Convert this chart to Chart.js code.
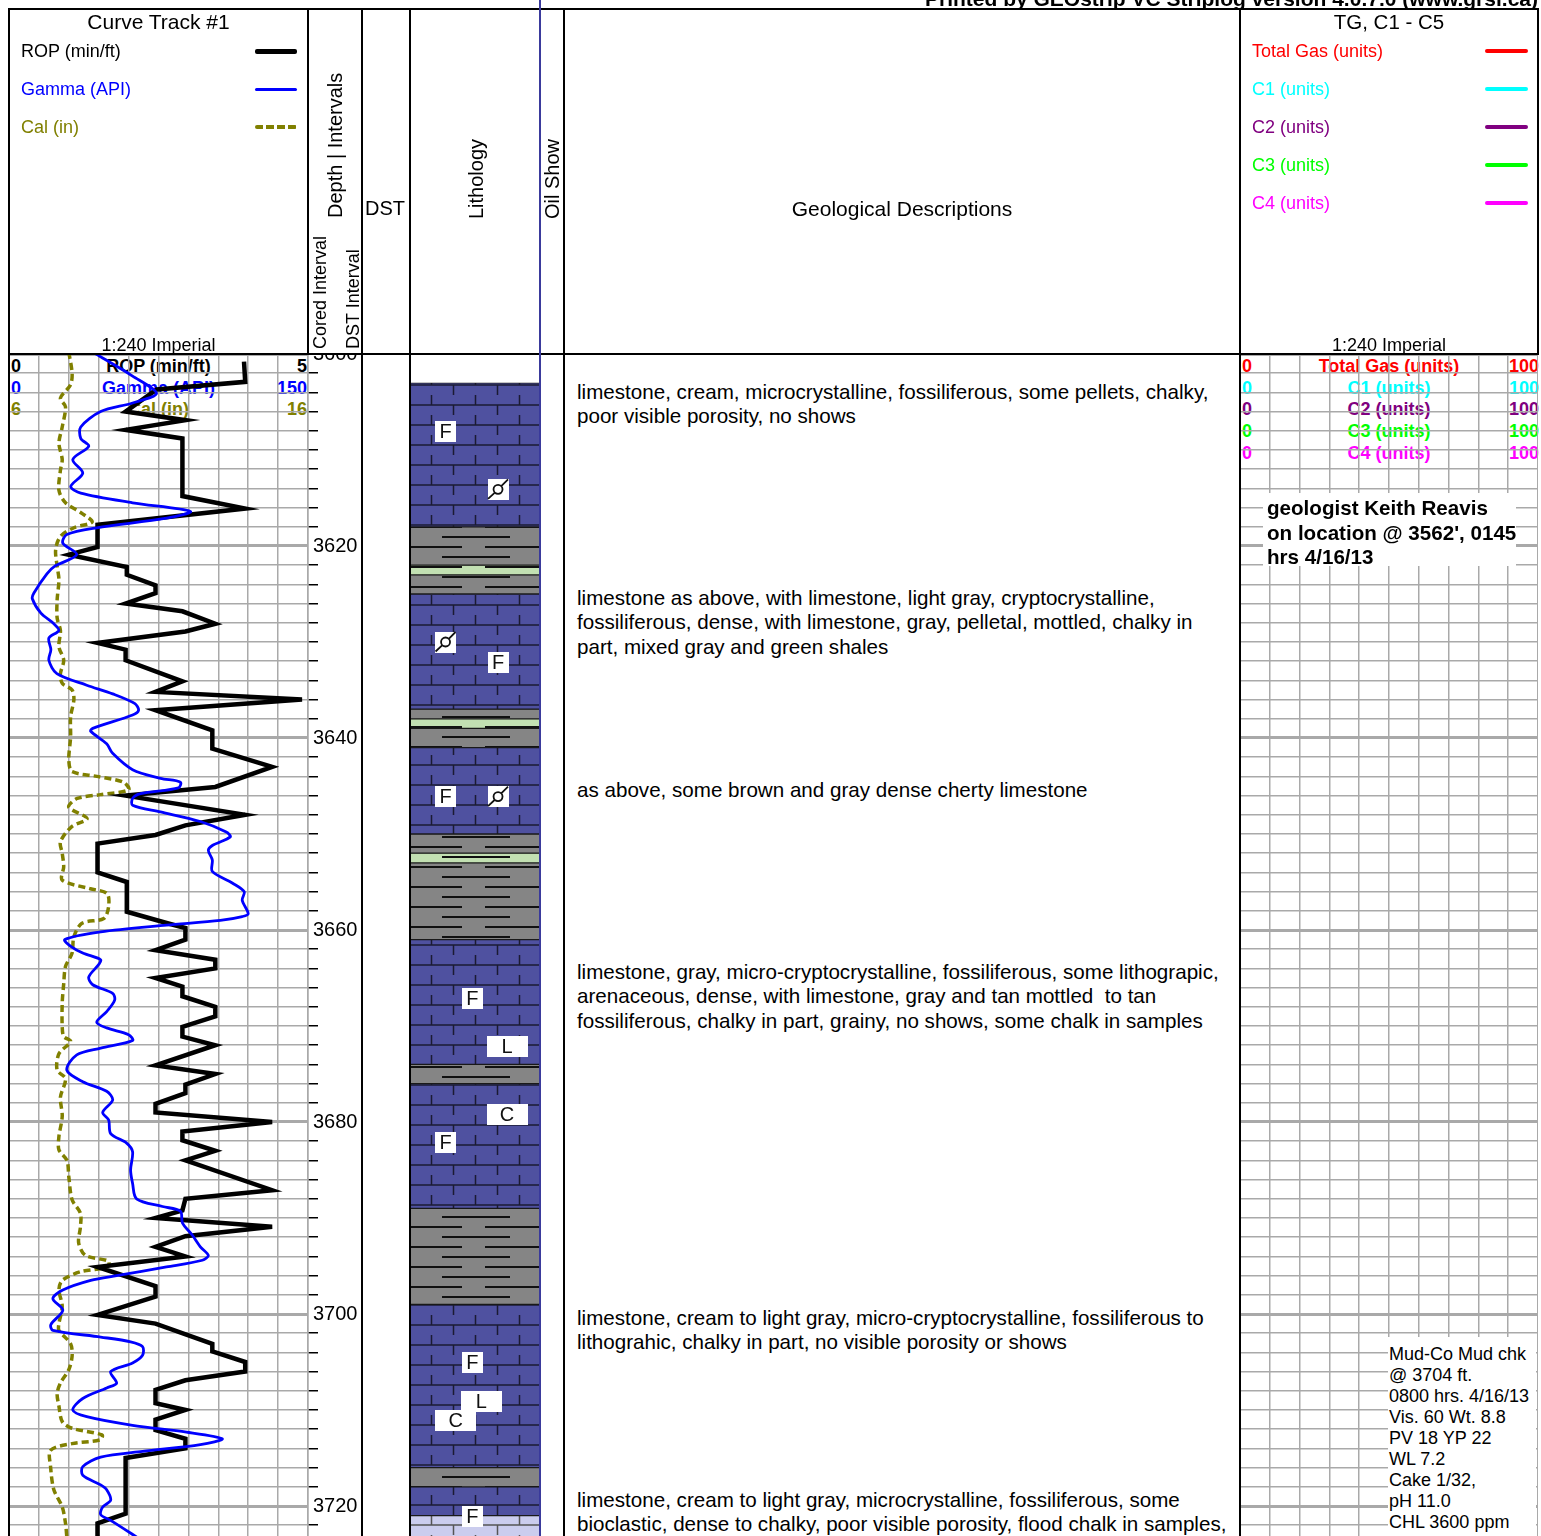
<!DOCTYPE html>
<html>
<head>
<meta charset="utf-8">
<title>Strip log 3600-3723 ft</title>
<script src="https://cdn.jsdelivr.net/npm/chart.js@4.4.1/dist/chart.umd.min.js"></script>
<style>
  html, body { margin: 0; padding: 0; background: #fff; }
  body { position: relative; width: 1541px; height: 1536px; overflow: hidden;
         font-family: "Liberation Sans", Arial, sans-serif; color: #000; }
  .a { position: absolute; white-space: pre; }
  .v { position: absolute; white-space: nowrap; writing-mode: vertical-rl; transform: rotate(180deg); text-align: start; }
  canvas { position: absolute; z-index: 2; }
  #header { position: absolute; left: 0; top: 0; width: 1541px; height: 354px; background: #fff; z-index: 3; }
  .line { position: absolute; z-index: 6; background: #000; }
  .under { z-index: 1; }
  .box { position: absolute; background: #fff; z-index: 4; white-space: pre; }
</style>
</head>
<body>
<div id="header"></div>
<canvas id="curves" width="362" height="1206" style="left:0;top:330px;width:362px;height:1206px"></canvas>
<canvas id="lith" width="128" height="1182" style="left:411px;top:354px;width:128px;height:1182px"></canvas>
<canvas id="gas" width="298" height="1182" style="left:1240px;top:354px;width:298px;height:1182px"></canvas>
<script>
const curveNames = ['ROP (min/ft)', 'Gamma (API)', 'Cal (in)'];
const curveColors = ['#000000', '#0000ff', '#808000'];
const curveMin = [0, 0, 6];
const curveMax = [5, 150, 16];

const gasNames = ['Total Gas (units)', 'C1 (units)', 'C2 (units)', 'C3 (units)', 'C4 (units)'];
const gasColors = ['#ff0000', '#00ffff', '#800080', '#00ff00', '#ff00ff'];
const gasMin = 0, gasMax = 100;

const ropDepth = [3600.8,3602.9,3603.7,3606.0,3606.9,3607.9,3608.8,3614.8,3616.1,3617.8,3620.1,3620.9,3622.2,3623.0,3624.1,3624.9,3626.0,3626.8,3628.1,3628.9,3630.1,3630.8,3631.9,3634.1,3635.2,3636.0,3637.1,3639.2,3641.1,3643.0,3645.1,3646.0,3648.0,3649.1,3650.1,3651.0,3654.0,3655.0,3658.1,3659.3,3659.8,3661.0,3662.1,3663.1,3664.0,3665.0,3665.9,3666.9,3668.0,3669.0,3670.1,3671.1,3672.0,3674.1,3675.0,3676.1,3677.0,3678.1,3679.0,3680.0,3681.0,3681.9,3683.0,3684.0,3687.1,3688.0,3689.2,3690.0,3690.9,3691.9,3693.0,3694.0,3695.1,3697.1,3698.2,3700.1,3701.0,3703.1,3703.9,3705.0,3706.0,3706.9,3707.9,3709.3,3710.0,3711.0,3712.1,3713.0,3714.0,3715.0,3720.8,3721.8,3723.5];
const ropValue = [3.93,3.95,2.47,1.95,2.95,1.95,2.9,2.9,3.95,1.48,1.48,1.0,1.97,1.97,2.45,2.45,1.95,2.9,3.45,2.95,1.48,1.95,1.95,2.9,2.45,4.9,2.45,3.4,3.4,4.4,3.45,1.95,3.95,2.95,2.45,1.48,1.48,1.97,1.97,2.65,2.95,2.95,2.45,3.45,3.45,2.45,2.9,2.9,3.45,3.45,2.9,2.9,3.45,2.45,3.45,2.95,2.95,2.45,2.45,4.4,2.9,2.9,3.45,2.95,4.4,2.95,2.9,2.45,4.4,2.95,2.45,2.95,1.48,2.45,2.45,1.48,2.45,3.4,3.4,3.95,3.95,2.95,2.45,2.45,2.95,2.45,2.45,2.95,2.95,1.95,1.95,1.48,1.48];

const gammaDepth = [3599.8,3602.3,3604.1,3605.1,3606.0,3607.6,3608.8,3609.6,3611.0,3612.4,3613.8,3614.5,3615.5,3616.4,3617.1,3618.1,3618.8,3619.7,3620.9,3622.1,3622.9,3624.9,3625.5,3627.0,3628.1,3628.8,3629.6,3630.8,3631.9,3633.3,3634.5,3635.4,3636.4,3637.1,3637.6,3639.0,3639.3,3640.6,3641.6,3643.3,3644.2,3644.6,3645.2,3645.8,3646.3,3647.0,3647.7,3648.7,3649.8,3650.3,3651.2,3651.7,3652.7,3653.9,3655.1,3656.0,3656.9,3658.3,3658.6,3659.0,3659.5,3660.2,3661.0,3661.7,3662.4,3663.1,3663.6,3664.9,3665.7,3666.6,3667.3,3668.5,3669.6,3670.2,3670.9,3671.5,3672.3,3673.0,3674.6,3675.8,3676.8,3677.7,3679.0,3679.8,3681.2,3682.2,3683.1,3685.0,3686.4,3688.0,3688.8,3689.3,3690.5,3691.8,3693.0,3693.9,3694.4,3695.1,3696.0,3696.5,3697.5,3698.4,3699.6,3701.1,3701.7,3702.4,3702.9,3703.4,3704.3,3705.1,3706.0,3707.2,3707.7,3708.8,3710.0,3710.7,3711.6,3712.3,3713.0,3713.6,3714.3,3714.9,3715.9,3716.8,3717.8,3718.3,3719.4,3720.1,3720.9,3721.5,3723.5];
const gammaValue = [42,62,74,62,46,36,36,40,32,37,31,36,62,91,79,44,29,27,34,23,19,12.5,11.7,16,22.5,25,20,21,20,24,39,52,63,65,62,42,41,49,52,62,76,86,85,66,62,62,76,96,109,111,102,100,102,102,112,118,117,120,117,106,79,46,28,31,37,46,45,40,42,52,53,49,44,49,60,62,46,34,29,37,49,52,47,50,51,59,62,61,62,64,77,86,87,92,96,100,97,79,54,41,27,22,27,21,22,46,61,67,67,62,51,54,49,37,32,39,62,89,107,96,67,46,37,37,46,49,51,47,46,51,66];

const calDepth = [3599.8,3602.0,3603.2,3604.6,3605.5,3607.6,3609.3,3611.0,3612.1,3614.2,3615.5,3616.6,3617.5,3618.1,3619.0,3620.4,3622.1,3623.5,3625.6,3627.5,3628.8,3630.5,3631.9,3633.3,3634.3,3635.0,3636.0,3637.8,3639.9,3642.3,3643.5,3644.0,3644.6,3645.4,3645.9,3646.3,3647.2,3648.4,3649.2,3650.8,3652.0,3653.4,3654.8,3655.7,3656.2,3657.6,3658.8,3659.3,3660.7,3662.4,3663.8,3665.6,3667.6,3670.1,3671.1,3671.6,3672.9,3674.6,3675.5,3677.4,3679.4,3681.5,3682.9,3684.0,3685.7,3688.1,3689.5,3690.9,3692.6,3693.9,3694.5,3695.1,3695.6,3696.5,3697.5,3699.2,3701.0,3701.7,3703.1,3704.4,3705.8,3707.2,3708.3,3709.6,3711.2,3711.9,3712.6,3713.1,3713.5,3714.2,3715.9,3718.3,3720.1,3721.8,3723.5];
const calValue = [8.0,8.11,8.06,7.72,7.89,7.78,7.67,7.78,7.72,7.67,7.89,8.44,8.78,8.17,7.72,7.56,7.61,7.67,7.61,7.61,7.72,7.67,7.83,7.72,7.78,8.11,8.17,8.06,8.06,8.0,8.11,8.94,9.83,10.0,9.06,8.28,8.0,8.61,8.11,7.72,7.78,7.83,7.78,8.72,9.28,9.33,9.17,8.44,8.17,8.11,7.89,7.83,7.78,7.78,7.83,8.06,7.67,7.61,7.89,7.72,7.78,7.67,7.67,7.94,8.0,8.11,8.39,8.39,8.33,8.56,9.33,9.28,8.39,7.78,7.67,7.78,7.67,7.67,8.06,8.11,8.0,7.72,7.61,7.67,7.78,8.11,9.11,9.06,8.11,7.39,7.39,7.5,7.78,7.89,7.94];

const lithTop  = [3603,3618,3622,3623,3625,3637,3638,3639,3641,3650,3652,3653,3661,3674,3676,3689,3699,3716,3718,3721];
const lithBase = [3618,3622,3623,3625,3637,3638,3639,3641,3650,3652,3653,3661,3674,3676,3689,3699,3716,3718,3721,3724];
const lithType = ['limestone','shale','green shale','shale','limestone','shale','green shale','shale','limestone','shale','green shale','shale','limestone','shale','limestone','shale','limestone','shale','limestone','chalky limestone'];

const symDepth = [3608.1,3614.1,3630.0,3632.1,3646.1,3646.1,3667.1,3672.1,3679.2,3682.1,3705.05,3709.1,3711.1,3721.1];
const symPos   = [0.27,0.68,0.27,0.68,0.27,0.68,0.48,0.75,0.75,0.27,0.48,0.55,0.35,0.48];
const symCode  = ['F','O','O','F','F','O','F','L','C','F','F','L','C','F'];

const descTop = [392, 598, 790, 972, 1318, 1500];
const descText = [
  ['limestone, cream, microcrystalline, fossiliferous, some pellets, chalky,', 'poor visible porosity, no shows'],
  ['limestone as above, with limestone, light gray, cryptocrystalline,', 'fossiliferous, dense, with limestone, gray, pelletal, mottled, chalky in', 'part, mixed gray and green shales'],
  ['as above, some brown and gray dense cherty limestone'],
  ['limestone, gray, micro-cryptocrystalline, fossiliferous, some lithograpic,', 'arenaceous, dense, with limestone, gray and tan mottled  to tan', 'fossiliferous, chalky in part, grainy, no shows, some chalk in samples'],
  ['limestone, cream to light gray, micro-cryptocrystalline, fossiliferous to', 'lithograhic, chalky in part, no visible porosity or shows'],
  ['limestone, cream to light gray, microcrystalline, fossiliferous, some', 'bioclastic, dense to chalky, poor visible porosity, flood chalk in samples,']
];
const geologistNote = ['geologist Keith Reavis', "on location @ 3562', 0145", 'hrs 4/16/13'];
const mudNote = ['Mud-Co Mud chk', '@ 3704 ft.', '0800 hrs. 4/16/13', 'Vis. 60 Wt. 8.8', 'PV 18 YP 22', 'WL 7.2', 'Cake 1/32,', 'pH 11.0', 'CHL 3600 ppm'];

// ---- page furniture ----
const header = document.getElementById('header');
function put(parent, text, css, cls) {
  const d = document.createElement('div');
  d.className = cls || 'a';
  d.style.cssText = css;
  d.textContent = text;
  parent.appendChild(d);
  return d;
}
function line(x, y, w, h, color) {
  put(document.body, '', `left:${x}px;top:${y}px;width:${w}px;height:${h}px;` + (color ? `background:${color};` : ''), 'line');
}

put(header, 'Printed by GEOstrip VC Striplog version 4.0.7.0 (www.grsi.ca)', 'left:838px;width:700px;top:-13px;line-height:24px;font-size:21px;font-weight:bold;text-align:right');
put(header, 'Curve Track #1', 'left:9px;width:299px;top:10px;line-height:24px;font-size:21px;text-align:center');
const legendW = [5, 3, 4];
curveNames.forEach((n, i) => {
  const cy = 51 + 38 * i;
  put(header, n, `left:21px;top:${cy - 11}px;line-height:22px;font-size:18px;color:${curveColors[i]}`);
  const fill = i === 2
    ? `repeating-linear-gradient(to right, ${curveColors[i]} 0 8px, transparent 8px 11px)`
    : curveColors[i];
  put(header, '', `left:255px;width:42px;top:${cy - legendW[i] / 2}px;height:${legendW[i]}px;background:${fill};border-radius:2px`);
});
put(header, '1:240 Imperial', 'left:9px;width:299px;top:335px;line-height:20px;font-size:18px;text-align:center');

put(header, 'Depth | Intervals', 'left:323px;width:24px;line-height:24px;top:18px;height:200px;font-size:20px', 'v');
put(header, 'Cored Interval', 'left:310px;width:20px;line-height:20px;top:149px;height:200px;font-size:18px', 'v');
put(header, 'DST Interval', 'left:343px;width:20px;line-height:20px;top:149px;height:200px;font-size:18px', 'v');
put(header, 'DST', 'left:365px;top:196px;line-height:24px;font-size:20px');
put(header, 'Lithology', 'left:464px;width:24px;line-height:24px;top:19px;height:200px;font-size:20px', 'v');
put(header, 'Oil Show', 'left:540px;width:24px;line-height:24px;top:19px;height:200px;font-size:20px', 'v');
put(header, 'Geological Descriptions', 'left:564px;width:676px;top:197px;line-height:24px;font-size:21px;text-align:center');
put(header, 'TG, C1 - C5', 'left:1240px;width:298px;top:10px;line-height:24px;font-size:20.5px;text-align:center');
gasNames.forEach((n, i) => {
  const cy = 51 + 38 * i;
  put(header, n, `left:1252px;top:${cy - 11}px;line-height:22px;font-size:18px;color:${gasColors[i]}`);
  put(header, '', `left:1485px;width:43px;top:${cy - 2}px;height:4px;background:${gasColors[i]};border-radius:2px`);
});
put(header, '1:240 Imperial', 'left:1240px;width:298px;top:335px;line-height:20px;font-size:18px;text-align:center');

// scale captions at the top of each track (under the curves)
curveNames.forEach((n, i) => {
  const top = 366 + 21.5 * i - 11;
  const st = `top:${top}px;line-height:22px;font-size:18px;font-weight:bold;color:${curveColors[i]};`;
  put(document.body, String(curveMin[i]), st + 'left:11px', 'a under');
  put(document.body, n, st + 'left:9px;width:299px;text-align:center', 'a under');
  put(document.body, String(curveMax[i]), st + 'left:9px;width:298px;text-align:right', 'a under');
});
gasNames.forEach((n, i) => {
  const top = 366 + 21.7 * i - 11;
  const st = `top:${top}px;line-height:22px;font-size:18px;font-weight:bold;color:${gasColors[i]};`;
  put(document.body, String(gasMin), st + 'left:1242px', 'a under');
  put(document.body, n, st + 'left:1240px;width:298px;text-align:center', 'a under');
  put(document.body, String(gasMax), st + 'left:1240px;width:299px;text-align:right', 'a under');
});

descText.forEach((lines, i) => {
  put(document.body, lines.join('\n'), `left:577px;top:${descTop[i] - 12.25}px;line-height:24.5px;font-size:20.6px`, 'a under');
});
put(document.body, geologistNote.join('\n'), 'left:1263px;top:493px;width:253px;height:73px;padding-left:4px;padding-top:3px;box-sizing:border-box;line-height:24.5px;font-size:20.6px;font-weight:bold', 'box');
put(document.body, mudNote.join('\n'), 'left:1388px;top:1337px;width:148px;height:199px;padding-left:1px;padding-top:7px;box-sizing:border-box;line-height:21px;font-size:18px', 'box');

// column borders
line(8, 8, 1531, 2);
line(8, 353, 1531, 2);
line(8, 8, 2, 1528);
line(307, 8, 2, 346);
line(361, 8, 2, 1528);
line(409, 8, 2, 1528);
line(563, 8, 2, 1528);
line(1239, 8, 2, 1528);
line(1537, 8, 2, 346);
line(539, 0, 1.6, 1536, '#3a3a9c');

// ---- charts ----
Chart.defaults.font.family = '"Liberation Sans", Arial, sans-serif';
Chart.defaults.animation = false;

const DEPTH_TOP = 3600;
const DEPTH_BASE = 3600 + 1182 / 9.6;
const gridGray = '#a9a9a9';
const isMajor = c => c.tick && Math.round(c.tick.value) % 20 === 0;
const gridWidth = c => (isMajor(c) ? 3 : 1.5);
const noHeight = s => { s.height = 0; s.paddingLeft = 0; s.paddingRight = 0; };

function pts(depths, values) { return depths.map((d, i) => ({ x: values[i], y: d })); }

new Chart(document.getElementById('curves'), {
  type: 'line',
  data: {
    datasets: [
      { label: curveNames[0], data: pts(ropDepth, ropValue), xAxisID: 'x', yAxisID: 'y',
        borderColor: curveColors[0], borderWidth: 4.5, pointRadius: 0, tension: 0, order: 1 },
      { label: curveNames[1], data: pts(gammaDepth, gammaValue), xAxisID: 'xg', yAxisID: 'y',
        borderColor: curveColors[1], borderWidth: 2.8, pointRadius: 0, tension: 0.3, order: 0 },
      { label: curveNames[2], data: pts(calDepth, calValue), xAxisID: 'xc', yAxisID: 'y',
        borderColor: curveColors[2], borderWidth: 3.5, borderDash: [7, 4], pointRadius: 0, tension: 0.3, order: 2 }
    ]
  },
  options: {
    responsive: false,
    indexAxis: 'y',
    layout: { padding: { left: 9, top: 24, right: 0, bottom: 0 } },
    plugins: { legend: { display: false }, tooltip: { enabled: false } },
    scales: {
      x: { type: 'linear', axis: 'x', position: 'top', min: curveMin[0], max: curveMax[0],
           ticks: { display: false, stepSize: 0.5 },
           grid: { color: gridGray, lineWidth: 1.5, drawTicks: false }, border: { display: false },
           afterFit: noHeight },
      xg: { type: 'linear', axis: 'x', min: curveMin[1], max: curveMax[1], display: false },
      xc: { type: 'linear', axis: 'x', min: curveMin[2], max: curveMax[2], display: false },
      y: { type: 'linear', position: 'right', reverse: true, min: DEPTH_TOP, max: DEPTH_BASE,
           ticks: { stepSize: 2, includeBounds: false, autoSkip: false, padding: -5, color: '#000',
                    font: { size: 20 }, callback: v => (Math.round(v) % 20 === 0 ? String(v) : '') },
           grid: { color: gridGray, lineWidth: gridWidth,
                   tickColor: c => (isMajor(c) ? 'rgba(0,0,0,0)' : '#000'), tickWidth: 1.5, tickLength: 10 },
           border: { color: gridGray, width: 1.5 },
           afterFit: s => { s.width = 54; s.paddingTop = 0; s.paddingBottom = 0; } }
    }
  }
});

// lithology fill patterns
function makePattern(kind) {
  const c = document.createElement('canvas');
  const g = c.getContext('2d');
  if (kind === 'limestone' || kind === 'chalky limestone') {
    c.width = 44; c.height = 20;
    g.fillStyle = kind === 'limestone' ? '#4f51a0' : '#cbcdee';
    g.fillRect(0, 0, 44, 20);
    g.strokeStyle = kind === 'limestone' ? '#1b1b33' : '#555';
    g.lineWidth = 1.5;
    g.beginPath();
    g.moveTo(0, 11); g.lineTo(44, 11);
    g.moveTo(20.5, 1); g.lineTo(20.5, 11);
    g.moveTo(42.5, 11); g.lineTo(42.5, 20);
    g.moveTo(42.5, 0); g.lineTo(42.5, 1);
    g.stroke();
  } else {
    c.width = 128; c.height = 20;
    g.fillStyle = kind === 'shale' ? '#858585' : '#c2e0b2';
    g.fillRect(0, 0, 128, 20);
    g.strokeStyle = '#111';
    g.lineWidth = 2;
    g.beginPath();
    g.moveTo(31, 3); g.lineTo(99, 3);
    g.moveTo(0, 13); g.lineTo(51, 13);
    g.moveTo(74, 13); g.lineTo(128, 13);
    g.stroke();
  }
  return g.createPattern(c, 'repeat');
}
const patterns = {};
lithType.forEach(t => { if (!patterns[t]) patterns[t] = makePattern(t); });

const symbolPlugin = {
  id: 'lithSymbols',
  afterDatasetsDraw(chart) {
    const meta = chart.getDatasetMeta(chart.data.datasets.length - 1);
    const ctx = chart.ctx;
    meta.data.forEach((pt, i) => {
      const code = symCode[i];
      const w = (code === 'L' || code === 'C') ? 41 : 21, h = 21;
      const x = pt.x, y = pt.y;
      ctx.save();
      ctx.fillStyle = '#fff';
      ctx.fillRect(Math.round(x - w / 2), Math.round(y - h / 2), w, h);
      ctx.fillStyle = '#111';
      ctx.strokeStyle = '#111';
      if (code === 'O') {
        ctx.lineWidth = 1.8;
        ctx.beginPath();
        ctx.arc(x, y, 4.5, 0, Math.PI * 2);
        ctx.moveTo(x - 10, y + 9.5); ctx.lineTo(x - 3.2, y + 3.2);
        ctx.moveTo(x + 3.2, y - 3.2); ctx.lineTo(x + 10, y - 10);
        ctx.stroke();
      } else {
        ctx.font = '20px "Liberation Sans", Arial, sans-serif';
        ctx.textAlign = 'center';
        ctx.textBaseline = 'middle';
        ctx.fillText(code, x, y + 1);
      }
      ctx.restore();
    });
  }
};

new Chart(document.getElementById('lith'), {
  type: 'bar',
  data: {
    labels: ['Lithology'],
    datasets: lithTop.map((t, i) => ({
      type: 'bar', label: lithType[i], data: [[t, lithBase[i]]],
      backgroundColor: patterns[lithType[i]], borderColor: '#1a1a1a',
      borderWidth: { top: 1, bottom: 1, left: 0, right: 0 }, borderSkipped: false,
      grouped: false, barPercentage: 1, categoryPercentage: 1, xAxisID: 'x', yAxisID: 'y', order: 1
    })).concat([{
      type: 'scatter', label: 'symbols', data: symDepth.map((d, i) => ({ x: symPos[i], y: d })),
      xAxisID: 'xs', yAxisID: 'y', pointRadius: 0, order: 0
    }])
  },
  options: {
    responsive: false,
    layout: { padding: 0 },
    plugins: { legend: { display: false }, tooltip: { enabled: false } },
    scales: {
      x: { type: 'category', display: false },
      xs: { type: 'linear', axis: 'x', min: 0, max: 1, offset: false, display: false },
      y: { type: 'linear', min: DEPTH_TOP, max: DEPTH_BASE, reverse: true, display: false }
    }
  },
  plugins: [symbolPlugin]
});

new Chart(document.getElementById('gas'), {
  type: 'line',
  data: { datasets: gasNames.map((n, i) => ({ label: n, data: [], borderColor: gasColors[i], pointRadius: 0 })) },
  options: {
    responsive: false,
    layout: { padding: 0 },
    plugins: { legend: { display: false }, tooltip: { enabled: false } },
    scales: {
      x: { type: 'linear', position: 'top', min: gasMin, max: gasMax,
           ticks: { display: false, stepSize: 10 },
           grid: { color: gridGray, lineWidth: 1.5, drawTicks: false }, border: { display: false },
           afterFit: noHeight },
      y: { type: 'linear', position: 'right', reverse: true, min: DEPTH_TOP, max: DEPTH_BASE,
           ticks: { display: false, stepSize: 2, includeBounds: false },
           grid: { color: gridGray, lineWidth: gridWidth, drawTicks: false },
           border: { color: gridGray, width: 1.5 },
           afterFit: s => { s.width = 0; s.paddingTop = 0; s.paddingBottom = 0; } }
    }
  }
});
</script>
</body>
</html>
